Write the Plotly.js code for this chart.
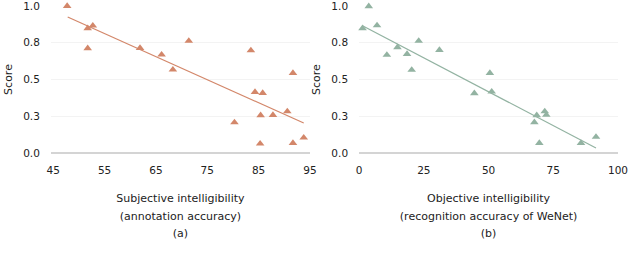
<!DOCTYPE html>
<html><head><meta charset="utf-8">
<script src="https://cdn.plot.ly/plotly-3.0.1.min.js"></script>
<style>html,body{margin:0;padding:0;background:#fff}#c{width:628px;height:270px}</style>
</head><body><div id="c"></div>
<script>
// (a) Subjective intelligibility vs score
const subjX = [47.7, 51.7, 52.7, 51.7, 61.9, 66.1, 68.3, 71.4, 80.3, 83.5, 84.3, 85.8, 85.3, 85.4, 87.8, 90.6, 91.7, 91.7, 93.8];
const subjY = [1.0, 0.848, 0.866, 0.712, 0.714, 0.669, 0.567, 0.762, 0.208, 0.698, 0.415, 0.408, 0.063, 0.256, 0.258, 0.283, 0.544, 0.068, 0.104];
const subjTrendX = [47.8, 93.8];
const subjTrendY = [0.925, 0.204];
// (b) Objective intelligibility vs score
const objX = [1.3, 3.7, 6.9, 10.7, 14.8, 18.5, 20.3, 23.0, 31.0, 44.5, 50.5, 51.2, 67.7, 68.6, 69.6, 71.7, 72.3, 85.7, 91.5];
const objY = [0.848, 0.998, 0.868, 0.667, 0.719, 0.673, 0.565, 0.762, 0.70, 0.406, 0.544, 0.417, 0.209, 0.256, 0.068, 0.283, 0.259, 0.068, 0.109];
const objTrendX = [1.3, 91.5];
const objTrendY = [0.866, 0.034];
const yTickVals = [0, 0.25, 0.5, 0.75, 1.0];
const yTickText = ['0.0', '0.3', '0.5', '0.8', '1.0'];
const xTicksA = [45, 55, 65, 75, 85, 95];
const xTicksB = [0, 25, 50, 75, 100];
const titleA = ['Subjective intelligibility', '(annotation accuracy)', '(a)'];
const titleB = ['Objective intelligibility', '(recognition accuracy of WeNet)', '(b)'];

const cA = '#d3876a', cB = '#93b3a2';
const font = {family: 'DejaVu Sans, Verdana, sans-serif', size: 10.5, color: '#222'};
const tfont = {family: 'DejaVu Sans, Verdana, sans-serif', size: 11, color: '#222'};
const xtfont = {family: 'DejaVu Sans, Verdana, sans-serif', size: 13.3, color: '#222'};
const lines = arr => arr.map(s => '<span style="font-size:11px">' + s + '</span>').join('<br>');
const traces = [
  {x: subjTrendX, y: subjTrendY, mode: 'lines', line: {color: cA, width: 1.2}, xaxis: 'x', yaxis: 'y', hoverinfo: 'skip'},
  {x: subjX, y: subjY, mode: 'markers', marker: {symbol: 'triangle-up', size: 7.5, color: cA}, xaxis: 'x', yaxis: 'y', cliponaxis: false},
  {x: objTrendX, y: objTrendY, mode: 'lines', line: {color: cB, width: 1.2}, xaxis: 'x2', yaxis: 'y2', hoverinfo: 'skip'},
  {x: objX, y: objY, mode: 'markers', marker: {symbol: 'triangle-up', size: 7.5, color: cB}, xaxis: 'x2', yaxis: 'y2', cliponaxis: false}
];
const yax = {
  range: [0, 1.0], tickvals: yTickVals, ticktext: yTickText, showgrid: true, gridcolor: '#f3f3f3', gridwidth: 1,
  zeroline: true, zerolinecolor: '#d4d4d4', zerolinewidth: 2, showline: false,
  ticks: 'outside', ticklen: 8, tickcolor: 'rgba(0,0,0,0)', ticklabeloverflow: 'allow',
  tickfont: font, title: {text: 'Score', font: tfont, standoff: 8}
};
const xbase = {showgrid: false, zeroline: false, showline: false, ticklabeloverflow: 'allow',
  ticks: 'outside', ticklen: 7, tickcolor: 'rgba(0,0,0,0)', tickfont: font};
const layout = {
  width: 628, height: 270, showlegend: false, paper_bgcolor: '#fff', plot_bgcolor: '#fff',
  margin: {l: 51, r: 10, t: 6, b: 117},
  font: font,
  xaxis: Object.assign({}, xbase, {domain: [0, 0.4566], range: [44.55, 95], tickvals: xTicksA, anchor: 'y',
    title: {text: lines(titleA), font: xtfont, standoff: 18}}),
  yaxis: Object.assign({}, yax, {anchor: 'x'}),
  xaxis2: Object.assign({}, xbase, {domain: [0.5435, 1], range: [0, 100], tickvals: xTicksB, anchor: 'y2',
    title: {text: lines(titleB), font: xtfont, standoff: 18}}),
  yaxis2: Object.assign({}, yax, {anchor: 'x2'})
};
Plotly.newPlot('c', traces, layout, {displayModeBar: false, staticPlot: true}).then(() => {
  // make sure every tick label drawn by the library stays visible
  document.querySelectorAll('.xtick text, .x2tick text, .ytick text, .y2tick text').forEach(t => {
    t.getBoundingClientRect();
    t.style.display = '';
    t.removeAttribute('display');
    t.style.opacity = 1;
  });
});
</script></body></html>
